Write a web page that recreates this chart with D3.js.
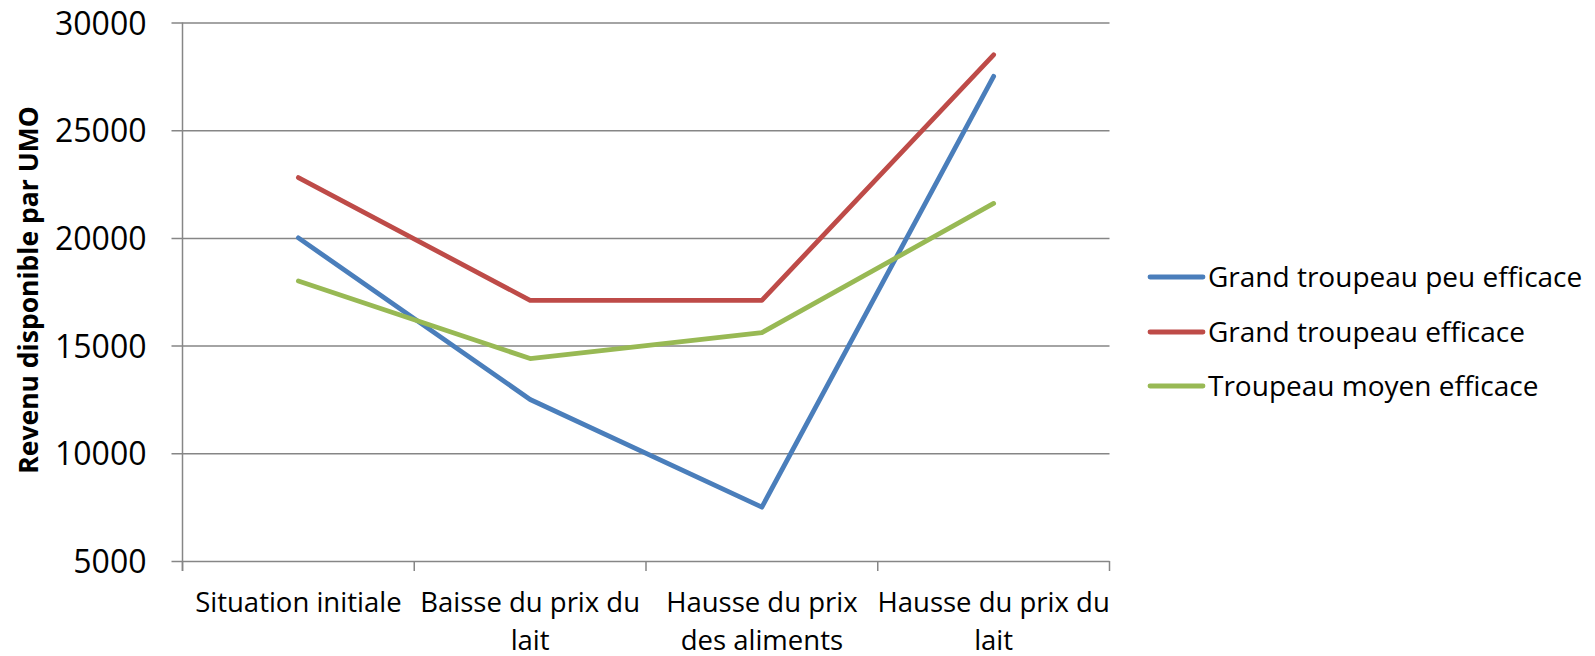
<!DOCTYPE html>
<html>
<head>
<meta charset="utf-8">
<script src="https://cdn.jsdelivr.net/npm/d3@7"></script>
<style>
  html, body { margin: 0; padding: 0; background: #fff; }
  svg { display: block; font-family: "Open Sans", sans-serif; }
</style>
</head>
<body>
<svg id="chart" width="1595" height="656"></svg>
<script>
const categories = ["Situation initiale", "Baisse du prix du lait", "Hausse du prix des aliments", "Hausse du prix du lait"];
const categoryLines = [["Situation initiale"], ["Baisse du prix du", "lait"], ["Hausse du prix", "des aliments"], ["Hausse du prix du", "lait"]];
const seriesNames = ["Grand troupeau peu efficace", "Grand troupeau efficace", "Troupeau moyen efficace"];
const seriesBlue = [20000, 12500, 7500, 27500];
const seriesRed = [22800, 17100, 17100, 28500];
const seriesGreen = [18000, 14400, 15600, 21600];
const yTicks = [5000, 10000, 15000, 20000, 25000, 30000];
const yTitle = "Revenu disponible par UMO";
const colors = ["#4A7EBB", "#BE4B48", "#98B954"];

(function () {
const svg = d3.select("#chart");
const pLeft = 182.5, pRight = 1109.5, pTop = 22.5, pBottom = 561;

const x = d3.scaleBand().domain(categories).range([pLeft, pRight]).padding(0);
const y = d3.scaleLinear().domain([5000, 30000]).range([pBottom, pTop]);

// gridlines + y axis
const yAxis = d3.axisLeft(y).tickValues(yTicks).tickSize(-(pRight - pLeft)).tickSizeOuter(0).tickPadding(0).tickFormat(d3.format("d"));
const gy = svg.append("g").attr("transform", `translate(${pLeft},0)`).call(yAxis);
gy.select(".domain").remove();
gy.selectAll(".tick line").attr("stroke", "#868686").attr("stroke-width", 1.5).attr("x1", -11);
gy.selectAll(".tick text").attr("x", -36).attr("font-size", 32).attr("fill", "#000")
  .attr("font-family", "Open Sans").attr("dy", "0.36em");

// y axis vertical line
svg.append("line").attr("x1", pLeft).attr("x2", pLeft).attr("y1", pTop).attr("y2", pBottom + 10)
  .attr("stroke", "#868686").attr("stroke-width", 1.5);

// x axis ticks
const xAxis = d3.axisBottom(x).tickSize(0).tickFormat("");
const gx = svg.append("g").attr("transform", `translate(0,${pBottom})`).call(xAxis);
gx.select(".domain").remove();
const boundaries = categories.map(c => x(c)).concat([x(categories[categories.length - 1]) + x.bandwidth()]);
svg.append("g").selectAll("line").data(boundaries).join("line")
  .attr("x1", d => d).attr("x2", d => d).attr("y1", pBottom).attr("y2", pBottom + 10)
  .attr("stroke", "#868686").attr("stroke-width", 1.5);

// x labels
const lbl = svg.append("g");
categories.forEach((c, i) => {
  const t = lbl.append("text").attr("x", x(c) + x.bandwidth() / 2).attr("y", 612)
    .attr("text-anchor", "middle").attr("font-size", 27.5).attr("fill", "#000");
  categoryLines[i].forEach((ln, j) => {
    t.append("tspan").attr("x", x(c) + x.bandwidth() / 2).attr("y", 612 + j * 37.5).text(ln);
  });
});

// y title
svg.append("text").attr("transform", `translate(28,290) rotate(-90)`)
  .attr("text-anchor", "middle").attr("dy", "0.36em").attr("font-weight", "bold").attr("font-size", 26.5)
  .attr("fill", "#000").text(yTitle);

// lines
const allSeries = [seriesBlue, seriesRed, seriesGreen];
const line = d3.line().x((d, i) => x(categories[i]) + x.bandwidth() / 2).y(d => y(d));
svg.append("g").selectAll("path").data(allSeries).join("path")
  .attr("d", d => line(d)).attr("fill", "none")
  .attr("stroke", (d, i) => colors[i]).attr("stroke-width", 4.8)
  .attr("stroke-linecap", "round").attr("stroke-linejoin", "round");

// legend
const legY = [277, 332, 386];
const leg = svg.append("g");
seriesNames.forEach((n, i) => {
  leg.append("line").attr("x1", 1150).attr("x2", 1203).attr("y1", legY[i]).attr("y2", legY[i])
    .attr("stroke", colors[i]).attr("stroke-width", 4.8).attr("stroke-linecap", "round");
  leg.append("text").attr("x", 1208).attr("y", legY[i]).attr("dy", "0.36em")
    .attr("font-size", 28).attr("fill", "#000").text(n);
});
})();
</script>
</body>
</html>
